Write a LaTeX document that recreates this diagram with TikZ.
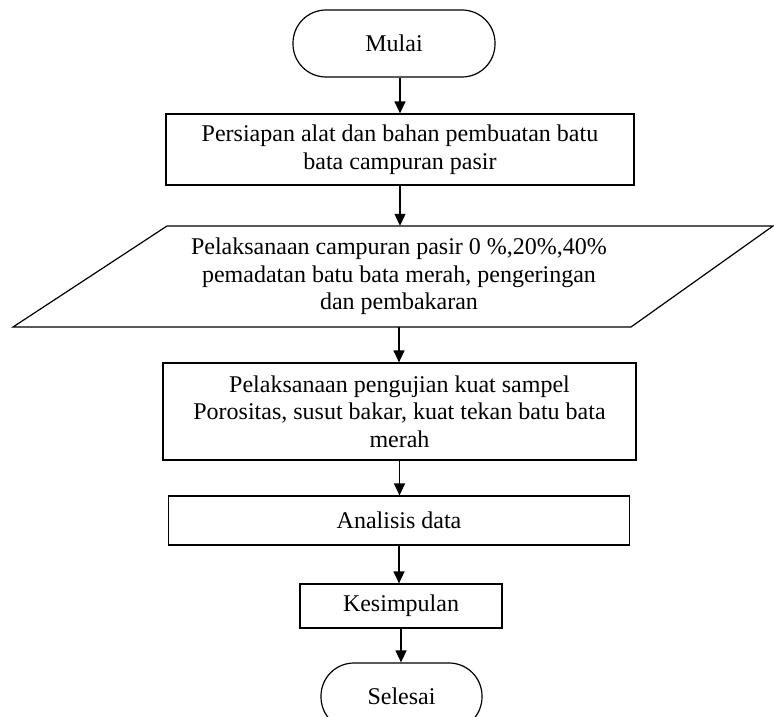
\documentclass[tikz,border=0pt]{standalone}
\usepackage{fontspec}
\setmainfont{Liberation Serif}
\usetikzlibrary{arrows.meta}
\begin{document}
\begin{tikzpicture}[x=1pt,y=-1pt,
  txt/.style={inner sep=0pt,align=center,font=\fontsize{24}{27.6}\selectfont},
  box/.style={txt,draw,line width=1.2pt},
  term/.style={box,rounded corners=33pt},
  arr/.style={-{Triangle[width=11pt,length=12pt]},line width=1.2pt}]
\useasboundingbox (0,0) rectangle (774,717);
\clip (0,0) rectangle (774,717);
\node[term,minimum width=202pt,minimum height=67pt] (mulai) at (394,43.5) {Mulai};
\node[box,minimum width=468pt,minimum height=71pt] (b1) at (400,149.5) {Persiapan alat dan bahan pembuatan batu\\bata campuran pasir};
\node[txt,minimum height=101pt] (para) at (399,276.5) {Pelaksanaan campuran pasir 0 \%,20\%,40\%\\pemadatan batu bata merah, pengeringan\\dan pembakaran};
\draw[line width=1.2pt] (167,226) -- (773,226) -- (631,327) -- (13,327) -- cycle;
\node[box,minimum width=473pt,minimum height=97pt] (b3) at (399.5,411.5) {Pelaksanaan pengujian kuat sampel\\Porositas, susut bakar, kuat tekan batu bata\\merah};
\node[box,minimum width=461pt,minimum height=49pt] (b4) at (399,520.5) {Analisis data};
\node[box,minimum width=202pt,minimum height=44pt] (b5) at (401,606) {Kesimpulan};
\node[term,minimum width=161pt,minimum height=67pt] (selesai) at (401.5,696.5) {Selesai};
\draw[arr] (mulai.south -| b1.north) -- (b1.north);
\draw[arr] (b1.south) -- (b1.south |- para.north);
\draw[arr] (para.south) -- (para.south |- b3.north);
\draw[arr] (b3.south) -- (b3.south |- b4.north);
\draw[arr] (b4.south) -- (b4.south |- b5.north);
\draw[arr] (b5.south) -- (b5.south |- selesai.north);
\end{tikzpicture}
\end{document}
